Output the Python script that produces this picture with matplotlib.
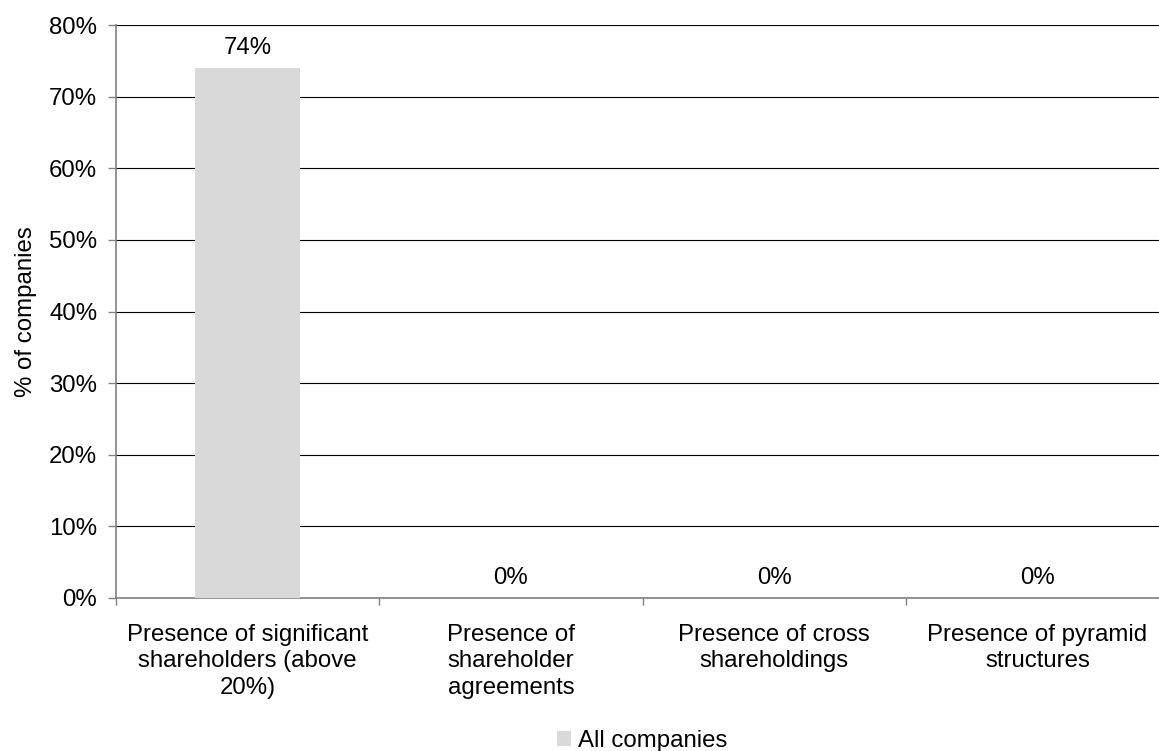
import matplotlib
matplotlib.use("Agg")
import matplotlib.pyplot as plt
from matplotlib.patches import Patch

categories = ["Presence of significant\nshareholders (above\n20%)",
              "Presence of\nshareholder\nagreements",
              "Presence of cross\nshareholdings",
              "Presence of pyramid\nstructures"]
values = [74, 0, 0, 0]
series_name = "All companies"
yticks = [0, 10, 20, 30, 40, 50, 60, 70, 80]

plt.rcParams['font.family'] = ['Liberation Sans', 'DejaVu Sans']
fs = 17.3

fig = plt.figure(figsize=(11.59, 7.51), dpi=100)
ax = fig.add_axes([116/1159, 1-598/751, (1169-116)/1159, (598-25)/751])

x = list(range(len(categories)))
bars = ax.bar(x, values, width=0.4, color='#d9d9d9', zorder=3)
for xi, v in zip(x, values):
    ax.text(xi, v + 1.2, f"{v}%", ha='center', va='bottom', fontsize=fs, color='#000000')

ax.set_xlim(-0.5, 3.5)
ax.set_ylim(0, 80)
ax.set_yticks(yticks)
ax.set_yticklabels([f"{t}%" for t in yticks], fontsize=fs)
ax.yaxis.grid(True, color='#000000', linewidth=0.8, zorder=0)
ax.set_axisbelow(True)

ax.set_xticks([i - 0.5 for i in range(len(categories) + 1)])
ax.set_xticklabels([])
ax.set_xticks(x, minor=True)
ax.set_xticklabels(categories, minor=True, fontsize=fs, linespacing=1.28)
ax.tick_params(axis='x', which='minor', length=0, pad=18.5)
ax.tick_params(axis='x', which='major', length=5, color='#808080', width=1)
ax.tick_params(axis='y', length=6, color='#808080', width=1, pad=7.5)

for s in ['top', 'right']:
    ax.spines[s].set_visible(False)
for s in ['left', 'bottom']:
    ax.spines[s].set_color('#808080')
    ax.spines[s].set_linewidth(1.2)

ax.set_ylabel("% of companies", fontsize=fs, labelpad=9)

fig.legend(handles=[Patch(facecolor='#d9d9d9', label=series_name)],
           loc='center', bbox_to_anchor=(642/1159, 1-741/751), frameon=False,
           fontsize=fs, handlelength=0.6, handleheight=0.6, handletextpad=0.3)

fig.savefig("out.png", dpi=100)
